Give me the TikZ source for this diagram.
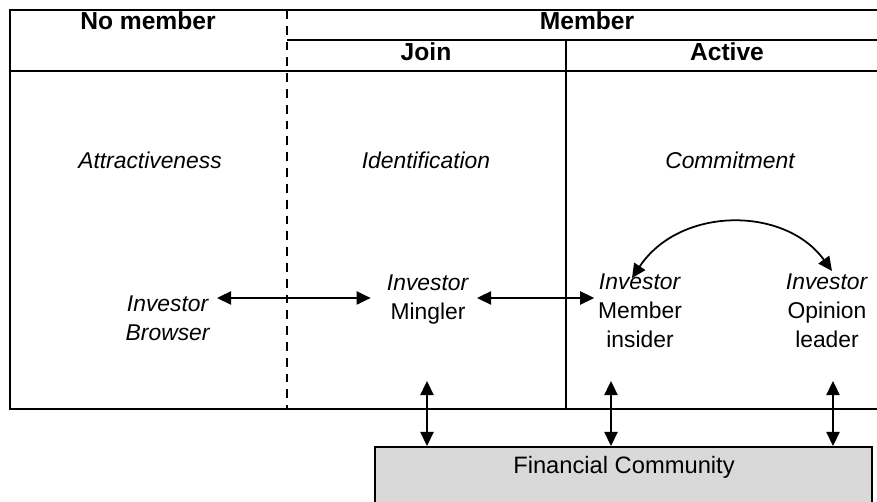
\documentclass[tikz,border=0pt]{standalone}
\usepackage{fontspec}
\setmainfont{Liberation Sans}
\usetikzlibrary{arrows.meta, positioning, calc}
\tikzset{
    >={Triangle[length=8pt, width=7.5pt]},
    % Lines
    frame/.style={line width=1pt, black},
    split/.style={line width=1pt, dashed, dash pattern=on 5pt off 4pt},
    link/.style={<->, line width=1pt},
    % Texts
    head/.style={font=\fontsize{14}{16}\selectfont\bfseries, inner sep=1pt},
    phase/.style={font=\fontsize{13}{15}\selectfont\itshape, inner sep=1pt},
    actor/.style={align=center, font=\fontsize{13}{16.5}\selectfont, inner sep=2pt},
    market/.style={draw, line width=1pt, fill=gray!30, minimum width=9.94cm,
                   minimum height=1.4cm, anchor=north west, inner sep=0pt}
}

\begin{document}
\begin{tikzpicture}[x=0.02cm, y=-0.02cm]

\useasboundingbox (0,0) rectangle (877,502);

% table
\draw[frame] (880,10) -- (10,10) -- (10,409) -- (880,409);
\draw[frame] (10,71) -- (880,71);
\draw[frame] (287,40) -- (880,40);
\draw[frame] (566,40) -- (566,409);
\draw[split] (287,10) -- (287,409);

% headers
\node[head] (nomember) at (148,21) {No member};
\node[head] (member) at (587,21) {Member};
\node[head] (join) at (426,52) {Join};
\node[head] (active) at (727,52) {Active};

\node[phase] (attract) at (150,160) {Attractiveness};
\node[phase] (ident) at (426,160) {Identification};
\node[phase] (commit) at (730,160) {Commitment};

% investors
\node[actor] (browser) at (168,318) {\textit{Investor}\\\textit{Browser}};
\node[actor] (mingler) at (428,300) {\textit{Investor}\\Mingler};
\node[actor] (insider) at (640,311) {\textit{Investor}\\Member\\insider};
\node[actor] (leader) at (827,311) {\textit{Investor}\\Opinion\\leader};

\node[market] (fin) at (374,446) {};
\node[font=\fontsize{13.5}{15}\selectfont] (finlabel) at (624,467) {Financial Community};

\coordinate (b1) at (217,298);
\coordinate (m1) at (477,298);
\coordinate (c1) at (632,278);
\coordinate (c2) at (832,271);
\coordinate (up1) at (427,381);
\coordinate (up2) at (611,381);
\coordinate (up3) at (833,381);

% links
\draw[link, shorten >=0.25cm] (b1) -- (b1 -| mingler.west);
\draw[link] (m1) -- (m1 -| insider.west);
\draw[link] (c1) .. controls (680,206) and (785,206) .. (c2);
\draw[link] (up1) -- (up1 |- fin.north);
\draw[link] (up2) -- (up2 |- fin.north);
\draw[link] (up3) -- (up3 |- fin.north);

\end{tikzpicture}
\end{document}
